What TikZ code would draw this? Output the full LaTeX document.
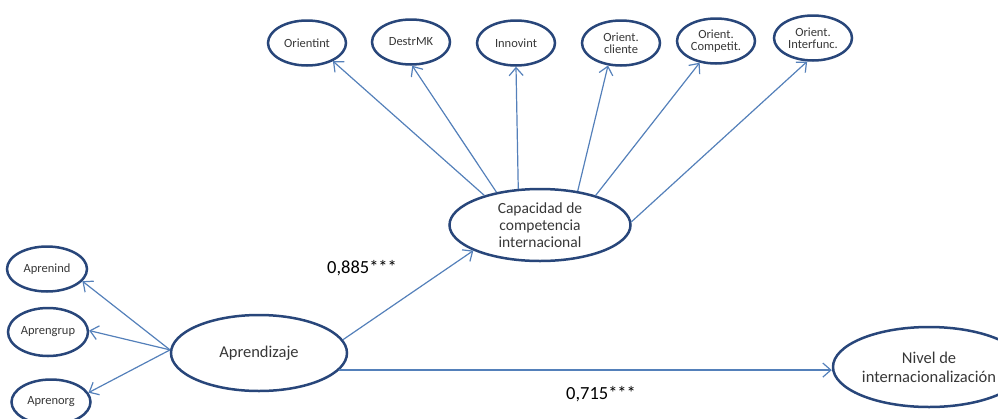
\documentclass[tikz,border=0pt]{standalone}
\usepackage{fontspec}
\setmainfont{Carlito}
\usetikzlibrary{shapes.geometric,arrows.meta}
\definecolor{rim}{RGB}{40,70,122}
\definecolor{link}{RGB}{84,128,186}
\definecolor{ink}{RGB}{55,55,55}
\tikzset{
  construct/.style={ellipse, draw=rim, line width=2.5pt, inner sep=0pt, text=ink, align=center},
  small/.style={construct, minimum width=78pt, minimum height=45pt, font=\fontsize{12.5}{12}\selectfont},
  big/.style={construct, minimum width=176pt, minimum height=76pt, font=\fontsize{15.5}{17}\selectfont},
  conn/.style={draw=link, line width=1.2pt, -{Straight Barb[length=8pt,width=14pt,line width=1.2pt]}},
  coef/.style={font=\fontsize{18.5}{20}\selectfont, text=black}
}
\begin{document}
\begin{tikzpicture}[x=1pt,y=-1pt]
\useasboundingbox (0,0) rectangle (998,418);
\clip (0,0) rectangle (998,418);
% indicators of the competence construct
\node[small] (oi) at (307,43) {Orientint};
\node[small] (dm) at (411,42) {DestrMK};
\node[small] (in) at (516,43) {Innovint};
\node[small] (oc) at (621,43) {Orient.\\[0pt]cliente};
\node[small] (op) at (716,41) {Orient.\\[0pt]Competit.};
\node[small] (of) at (813,38) {Orient.\\[0pt]Interfunc.};
% latent constructs
\node[big, minimum width=181pt, minimum height=72pt] (cap) at (540,225) {Capacidad de\\competencia\\internacional};
\node[big, font=\fontsize{16.5}{18}\selectfont] (apr) at (259,353) {Aprendizaje};
\node[big, minimum width=192pt, minimum height=80pt, font=\fontsize{16.5}{19}\selectfont] (niv) at (929,367) {Nivel de\\internacionalización};
% indicators of learning
\node[small, minimum width=80pt] (ai) at (47,269) {Aprenind};
\node[small, minimum width=80pt, minimum height=48pt] (ag) at (48,332) {Aprengrup};
\node[small, minimum width=79pt] (ao) at (51,402) {Aprenorg};
% loadings
\draw[conn] (cap.152) -- (oi.-35);
\draw[conn] (cap.143) -- (dm.-87);
\draw[conn] (cap.121) -- (in.south);
\draw[conn] (cap.42) -- (oc.-120);
\draw[conn] (cap.28) -- (op.-127);
\draw[conn] (cap.2) -- (of.-104);
\draw[conn] (apr.178) -- (ai.-19);
\draw[conn] (apr.178) -- (ag.2);
\draw[conn] (apr.178) -- (ao.14);
% structural paths
\draw[conn] (apr.9) -- (cap.201);
\draw[conn] (apr.-12) -- (apr.-12 -| niv.west);
\node[coef] (c1) at (362,268) {0,885***};
\node[coef] (c2) at (601,394) {0,715***};
\end{tikzpicture}
\end{document}
